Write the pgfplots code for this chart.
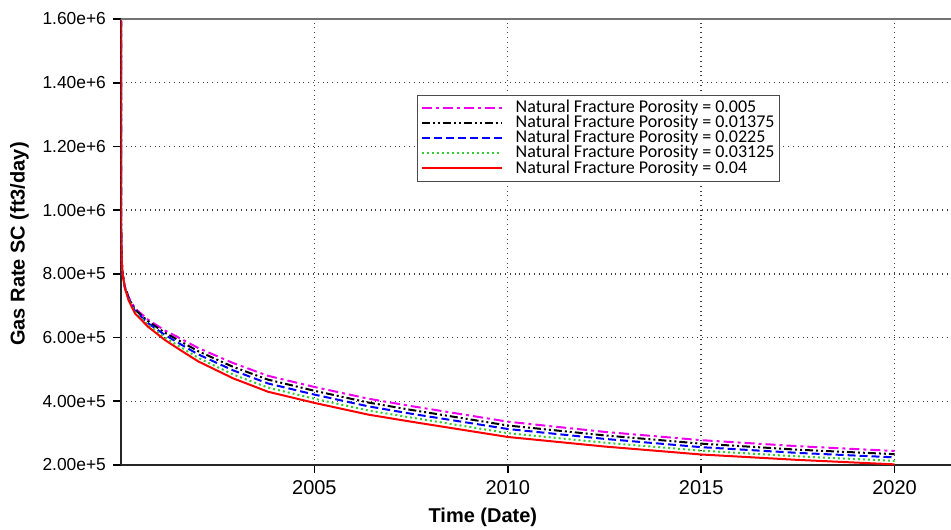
\documentclass[border=0pt]{standalone}
\usepackage{pgfplots}
\usepackage{pgfplotstable}
\pgfplotsset{compat=1.18}
\usepackage{fontspec}
\setmainfont{Liberation Sans}
\newfontfamily\calibri{Carlito}

% gas rate (ft3/day, in units of 1e5) per natural fracture porosity
% r = 0.04, g = 0.03125, b = 0.0225, k = 0.01375, m = 0.005
\pgfplotstableread{
t        r     g     b     k     m
2000.0   16.0  16.0  16.0  16.0  16.0
2000.005 9.40  9.40  9.40  9.40  9.40
2000.02  8.40  8.40  8.40  8.40  8.40
2000.04  8.00  8.01  8.01  8.02  8.02
2000.1   7.55  7.56  7.58  7.59  7.60
2000.2   7.16  7.19  7.21  7.24  7.26
2000.36  6.76  6.80  6.84  6.88  6.92
2000.7   6.34  6.40  6.45  6.51  6.56
2001.14  5.92  6.00  6.08  6.15  6.22
2001.57  5.58  5.68  5.77  5.86  5.95
2002.0   5.25  5.36  5.47  5.57  5.67
2002.9   4.72  4.84  4.97  5.08  5.20
2003.8   4.30  4.43  4.56  4.68  4.80
2005.0   3.95  4.08  4.21  4.33  4.45
2006.4   3.58  3.71  3.84  3.96  4.08
2007.5   3.36  3.49  3.61  3.73  3.85
2010.0   2.88  3.00  3.13  3.24  3.36
2012.5   2.58  2.70  2.82  2.93  3.04
2015.0   2.33  2.45  2.56  2.67  2.78
2017.5   2.16  2.27  2.38  2.48  2.59
2020.0   2.02  2.13  2.24  2.34  2.44
}\data

\definecolor{fgreen}{HTML}{33CC33}
\definecolor{fmag}{HTML}{EE00EE}

\begin{document}
\begin{tikzpicture}
\begin{axis}[
    scale only axis,
    width=415pt, height=223pt,
    xmin=2000, xmax=2021.46,
    ymin=2, ymax=16,
    axis x line*=bottom, axis y line*=left,
    axis line style={line width=1pt, black!85},
    xtick={2005,2010,2015,2020},
    xticklabels={\mbox{2005},\mbox{2010},\mbox{2015},\mbox{2020}},
    ytick={2,4,6,8,10,12,14,16},
    yticklabels={\mbox{2.00e+5},\mbox{4.00e+5},\mbox{6.00e+5},\mbox{8.00e+5},\mbox{1.00e+6},\mbox{1.20e+6},\mbox{1.40e+6},\mbox{1.60e+6}},
    tick align=outside,
    major tick length=4pt,
    tick style={line width=0.8pt, black},
    grid=major,
    grid style={dotted, black!75, line width=0.7pt},
    xticklabel style={font=\fontsize{10}{12}\selectfont},
    yticklabel style={font=\fontsize{8.7}{10}\selectfont},
    label style={font=\bfseries\fontsize{10}{12}\selectfont},
    xlabel={Time (Date)},
    ylabel={Gas Rate SC (ft3/day)},
    xlabel style={at={(ticklabel cs:0.436)}},
    ylabel style={xshift=-1pt},
    legend cell align=left,
    legend image code/.code={\draw[#1] (0pt,0pt) -- (40pt,0pt);},
    legend style={at={(rel axis cs:0.357,0.83)}, anchor=north west,
        draw=black!70, very thin, fill=white,
        font=\calibri\fontsize{9}{9}\selectfont,
        inner sep=1.5pt, row sep=-2pt,
        nodes={inner sep=0.6pt, text height=6.5pt, text depth=1.9pt},
        /tikz/every odd column/.append style={column sep=6pt}},
]
\addplot[fmag, line width=1pt, dash pattern=on 5pt off 2pt on 1.5pt off 2pt] table[x=t,y=m]{\data};
\addlegendentry{Natural Fracture Porosity = 0.005}
\addplot[black, line width=1pt, dash pattern=on 4pt off 1.5pt on 1pt off 1.5pt on 1pt off 1.5pt] table[x=t,y=k]{\data};
\addlegendentry{Natural Fracture Porosity = 0.01375}
\addplot[blue, line width=1pt, dash pattern=on 4pt off 2pt] table[x=t,y=b]{\data};
\addlegendentry{Natural Fracture Porosity = 0.0225}
\addplot[fgreen, line width=1pt, dash pattern=on 1pt off 1.5pt] table[x=t,y=g]{\data};
\addlegendentry{Natural Fracture Porosity = 0.03125}
\addplot[red, line width=1pt] table[x=t,y=r]{\data};
\addlegendentry{Natural Fracture Porosity = 0.04}
\draw[black!55, line width=1pt] (rel axis cs:0,1) -- (rel axis cs:1,1);
\end{axis}
\pgfresetboundingbox
\path ([shift={(-60.5pt,-32pt)}]current axis.south west) rectangle ([shift={(0pt,9.5pt)}]current axis.north east);
\end{tikzpicture}
\end{document}
